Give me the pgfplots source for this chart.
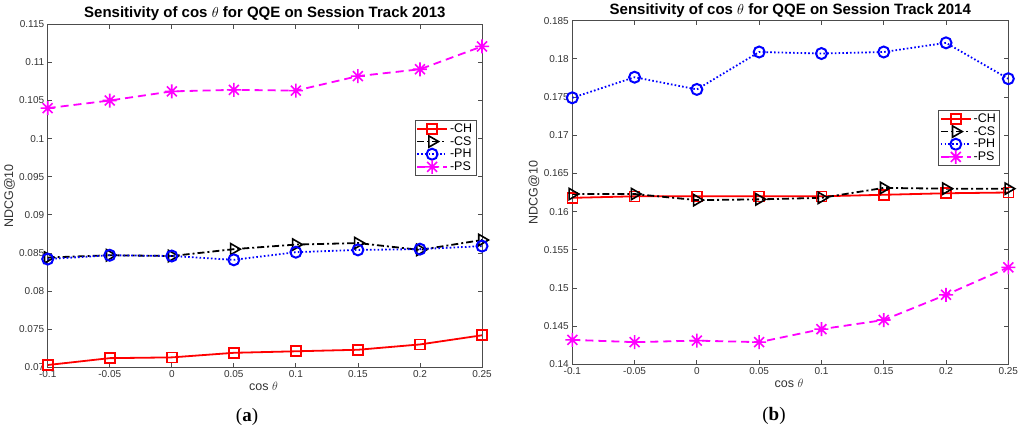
\documentclass[border=0pt]{standalone}
\usepackage{fontspec}
\setmainfont{Liberation Sans}
\newfontfamily\subfont{Liberation Serif}
\usepackage{pgfplots}
\pgfplotsset{compat=1.18}
\definecolor{mred}{rgb}{1,0,0}
\definecolor{mblue}{rgb}{0,0,1}
\definecolor{mmag}{rgb}{1,0,1}

\pgfdeclareplotmark{matstar}{%
  \pgfpathmoveto{\pgfqpoint{0pt}{\pgfplotmarksize}}\pgfpathlineto{\pgfqpoint{0pt}{-\pgfplotmarksize}}%
  \pgfpathmoveto{\pgfqpoint{\pgfplotmarksize}{0pt}}\pgfpathlineto{\pgfqpoint{-\pgfplotmarksize}{0pt}}%
  \pgfpathmoveto{\pgfqpoint{0.7071\pgfplotmarksize}{0.7071\pgfplotmarksize}}\pgfpathlineto{\pgfqpoint{-0.7071\pgfplotmarksize}{-0.7071\pgfplotmarksize}}%
  \pgfpathmoveto{\pgfqpoint{0.7071\pgfplotmarksize}{-0.7071\pgfplotmarksize}}\pgfpathlineto{\pgfqpoint{-0.7071\pgfplotmarksize}{0.7071\pgfplotmarksize}}%
  \pgfusepathqstroke}

\pgfplotsset{
  every axis title shift=0pt,
  mystyle/.style={
    scale only axis, clip=false,
    xmin=-0.1, xmax=0.25,
    xtick={-0.1,-0.05,0,0.05,0.1,0.15,0.2,0.25},
    xticklabels={-0.1,-0.05,0,0.05,0.1,0.15,0.2,0.25},
    tick align=inside, major tick length=4.5pt,
    axis line style={black!70, line width=0.9pt},
    tick style={black!70, line width=0.8pt},
    ticklabel style={font=\fontsize{10}{11}\selectfont, text=black!80},
    label style={font=\fontsize{12.5}{14}\selectfont, text=black!80},
    title style={font=\fontsize{15}{17}\selectfont\bfseries, at={(axis description cs:0.5,1)}, anchor=base, yshift=6.3pt},
    xlabel={cos $\theta$},
    ylabel={NDCG@10},
    xlabel style={at={(axis description cs:0.497,0)}, anchor=base, yshift=-23pt},
    legend cell align=left,
    legend style={draw=black!70, font=\fontsize{12.5}{14}\selectfont, inner sep=1.5pt, row sep=-1.5pt},
    legend image code/.code={\draw[mark repeat=2,mark phase=2,##1] plot coordinates {(0pt,0pt)(15pt,0pt)(30pt,0pt)};},
  },
  ch/.style={color=mred, line width=1.8pt, mark=square, mark size=5pt, mark options={solid, draw=mred, line width=1.6pt}},
  cs/.style={color=black, line width=1.8pt, dash pattern=on 7pt off 3pt on 2pt off 3pt, mark=triangle, mark size=6.5pt, mark options={solid, draw=black, rotate=-90, line width=1.6pt}},
  ph/.style={color=mblue, line width=1.8pt, dash pattern=on 1.6pt off 2.2pt, mark=o, mark size=5.5pt, mark options={solid, draw=mblue, line width=2pt}},
  ps/.style={color=mmag, line width=1.8pt, dash pattern=on 8pt off 5pt, mark=matstar, mark size=7pt, mark options={solid, draw=mmag, line width=1.6pt}},
}

\begin{document}
\begin{tikzpicture}[x=1pt,y=1pt]
\useasboundingbox (0,0) rectangle (1024,433);

\begin{axis}[mystyle,
  at={(47.7pt,65.7pt)}, anchor=south west,
  width=434.3pt, height=343pt,
  ymin=0.07, ymax=0.115,
  ytick={0.07,0.075,0.08,0.085,0.09,0.095,0.1,0.105,0.11,0.115},
  yticklabels={0.07,0.075,0.08,0.085,0.09,0.095,0.1,0.105,0.11,0.115},
  title={Sensitivity of cos $\theta$ for QQE on Session Track 2013},
  ylabel style={at={(axis description cs:-0.088,0.5)}, anchor=center},
  legend style={at={(axis description cs:0.986,0.721)}, anchor=north east},
]
\addplot[ch] coordinates {(-0.1,0.0703)(-0.05,0.0712)(0,0.0713)(0.05,0.0719)(0.1,0.0721)(0.15,0.0723)(0.2,0.0730)(0.25,0.0742)};
\addplot[cs] coordinates {(-0.1,0.0844)(-0.05,0.0847)(0,0.0846)(0.05,0.0855)(0.1,0.0861)(0.15,0.0863)(0.2,0.0854)(0.25,0.0867)};
\addplot[ph] coordinates {(-0.1,0.0842)(-0.05,0.0847)(0,0.0846)(0.05,0.0841)(0.1,0.0851)(0.15,0.0854)(0.2,0.0855)(0.25,0.0859)};
\addplot[ps] coordinates {(-0.1,0.1040)(-0.05,0.1050)(0,0.1062)(0.05,0.1064)(0.1,0.1063)(0.15,0.1082)(0.2,0.1091)(0.25,0.1121)};
\legend{-CH,-CS,-PH,-PS}
\end{axis}

\begin{axis}[mystyle,
  at={(572.3pt,68.7pt)}, anchor=south west,
  width=436pt, height=343.6pt,
  ymin=0.14, ymax=0.185,
  ytick={0.14,0.145,0.15,0.155,0.16,0.165,0.17,0.175,0.18,0.185},
  yticklabels={0.14,0.145,0.15,0.155,0.16,0.165,0.17,0.175,0.18,0.185},
  title={Sensitivity of cos $\theta$ for QQE on Session Track 2014},
  ylabel style={at={(axis description cs:-0.088,0.5)}, anchor=center},
  legend style={at={(axis description cs:0.980,0.740)}, anchor=north east},
]
\addplot[ch] coordinates {(-0.1,0.1618)(-0.05,0.1620)(0,0.1620)(0.05,0.1620)(0.1,0.1620)(0.15,0.1622)(0.2,0.1624)(0.25,0.1625)};
\addplot[cs] coordinates {(-0.1,0.1623)(-0.05,0.1623)(0,0.1615)(0.05,0.1616)(0.1,0.1618)(0.15,0.1631)(0.2,0.1630)(0.25,0.1630)};
\addplot[ph] coordinates {(-0.1,0.1749)(-0.05,0.1776)(0,0.1760)(0.05,0.1809)(0.1,0.1807)(0.15,0.1809)(0.2,0.1821)(0.25,0.1774)};
\addplot[ps] coordinates {(-0.1,0.1432)(-0.05,0.1429)(0,0.1431)(0.05,0.1429)(0.1,0.1446)(0.15,0.1458)(0.2,0.1491)(0.25,0.1527)};
\legend{-CH,-CS,-PH,-PS}
\end{axis}

\node[font=\subfont\fontsize{19}{22}\selectfont] at (247,16) {(\textbf{a})};
\node[font=\subfont\fontsize{19}{22}\selectfont] at (774,17) {(\textbf{b})};
\end{tikzpicture}
\end{document}
